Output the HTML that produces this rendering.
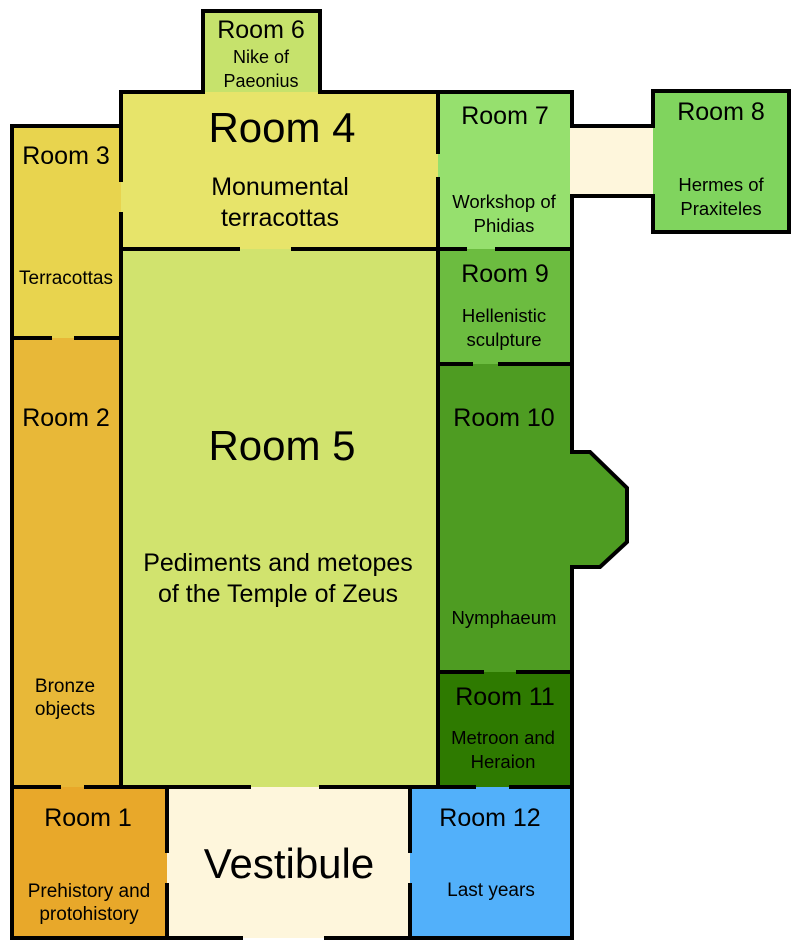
<!DOCTYPE html>
<html><head><meta charset="utf-8"><style>
html,body{margin:0;padding:0;background:#fff;}
svg{display:block;font-family:"Liberation Sans",sans-serif;}
</style></head><body>
<svg width="800" height="951" viewBox="0 0 800 951" xmlns="http://www.w3.org/2000/svg">
<g stroke="none">
<rect x="203" y="11" width="117" height="83" fill="#c6e26c"/>
<rect x="121" y="92" width="317" height="157" fill="#e7e46a"/>
<rect x="12" y="126" width="109" height="212" fill="#e8d44e"/>
<rect x="12" y="338" width="109" height="449" fill="#e8b838"/>
<rect x="121" y="249" width="317" height="538" fill="#d1e36e"/>
<rect x="438" y="92" width="134" height="157" fill="#96e06e"/>
<rect x="570" y="126" width="85" height="70" fill="#fef6dc"/>
<rect x="653" y="91" width="136" height="141" fill="#80d45e"/>
<rect x="438" y="249" width="134" height="115" fill="#6cbc40"/>
<polygon points="438,364 572,364 572,452 590,452 627,488 627,542 600,567 572,567 572,672 438,672" fill="#4e9c22"/>
<rect x="438" y="672" width="134" height="115" fill="#2e7a00"/>
<rect x="12" y="787" width="155" height="151" fill="#e8a82a"/>
<rect x="167" y="787" width="243" height="151" fill="#fef6dc"/>
<rect x="410" y="787" width="162" height="151" fill="#52b0fa"/>
</g>
<g stroke="#000" stroke-width="4" fill="none" stroke-linecap="square">
<polyline points="203,92 203,11 320,11 320,92"/>
<line x1="121" y1="92" x2="203" y2="92"/>
<line x1="320" y1="92" x2="572" y2="92"/>
<polyline points="121,180 121,92"/>
<line x1="121" y1="214" x2="121" y2="787"/>
<polyline points="121,126 12,126 12,938 241,938"/>
<line x1="326" y1="938" x2="572" y2="938"/>
<line x1="438" y1="92" x2="438" y2="152"/>
<line x1="438" y1="179" x2="438" y2="787"/>
<line x1="121" y1="249" x2="238" y2="249"/>
<line x1="293" y1="249" x2="438" y2="249"/>
<line x1="12" y1="338" x2="50" y2="338"/>
<line x1="76" y1="338" x2="121" y2="338"/>
<line x1="12" y1="787" x2="59" y2="787"/>
<line x1="86" y1="787" x2="249" y2="787"/>
<line x1="321" y1="787" x2="474" y2="787"/>
<line x1="511" y1="787" x2="572" y2="787"/>
<line x1="167" y1="787" x2="167" y2="851"/>
<line x1="167" y1="885" x2="167" y2="938"/>
<line x1="410" y1="787" x2="410" y2="851"/>
<line x1="410" y1="885" x2="410" y2="938"/>
<line x1="572" y1="92" x2="572" y2="126"/>
<polyline points="572,196 572,452 590,452 627,488 627,542 600,567 572,567 572,938"/>
<line x1="572" y1="126" x2="653" y2="126"/>
<line x1="572" y1="196" x2="653" y2="196"/>
<polyline points="653,126 653,91 789,91 789,232 653,232 653,196"/>
<line x1="438" y1="249" x2="465" y2="249"/>
<line x1="497" y1="249" x2="572" y2="249"/>
<line x1="438" y1="364" x2="471" y2="364"/>
<line x1="500" y1="364" x2="572" y2="364"/>
<line x1="438" y1="672" x2="482" y2="672"/>
<line x1="518" y1="672" x2="572" y2="672"/>
</g>
<g fill="#000" text-anchor="middle">
<text x="261" y="38" font-size="25">Room 6</text>
<text x="261" y="63" font-size="18">Nike of</text>
<text x="261" y="87" font-size="18">Paeonius</text>
<text x="282" y="142" font-size="42">Room 4</text>
<text x="280" y="195" font-size="25">Monumental</text>
<text x="280" y="226" font-size="25">terracottas</text>
<text x="66" y="164" font-size="25">Room 3</text>
<text x="66" y="284" font-size="19">Terracottas</text>
<text x="66" y="426" font-size="25">Room 2</text>
<text x="65" y="692" font-size="19">Bronze</text>
<text x="65" y="715" font-size="19">objects</text>
<text x="282" y="460" font-size="42">Room 5</text>
<text x="278" y="571" font-size="25">Pediments and metopes</text>
<text x="278" y="602" font-size="25">of the Temple of Zeus</text>
<text x="505" y="124" font-size="25">Room 7</text>
<text x="504" y="208" font-size="18.5">Workshop of</text>
<text x="504" y="232" font-size="18.5">Phidias</text>
<text x="721" y="120" font-size="25">Room 8</text>
<text x="721" y="191" font-size="18.5">Hermes of</text>
<text x="721" y="215" font-size="18.5">Praxiteles</text>
<text x="505" y="282" font-size="25">Room 9</text>
<text x="504" y="322" font-size="18.5">Hellenistic</text>
<text x="504" y="346" font-size="18.5">sculpture</text>
<text x="504" y="426" font-size="25">Room 10</text>
<text x="504" y="624" font-size="18.5">Nymphaeum</text>
<text x="505" y="705" font-size="25">Room 11</text>
<text x="503" y="744" font-size="18.5">Metroon and</text>
<text x="503" y="768" font-size="18.5">Heraion</text>
<text x="88" y="826" font-size="25">Room 1</text>
<text x="89" y="897" font-size="19">Prehistory and</text>
<text x="89" y="920" font-size="19">protohistory</text>
<text x="289" y="878" font-size="42">Vestibule</text>
<text x="490" y="826" font-size="25">Room 12</text>
<text x="491" y="896" font-size="19">Last years</text>
</g>
</svg>
</body></html>
